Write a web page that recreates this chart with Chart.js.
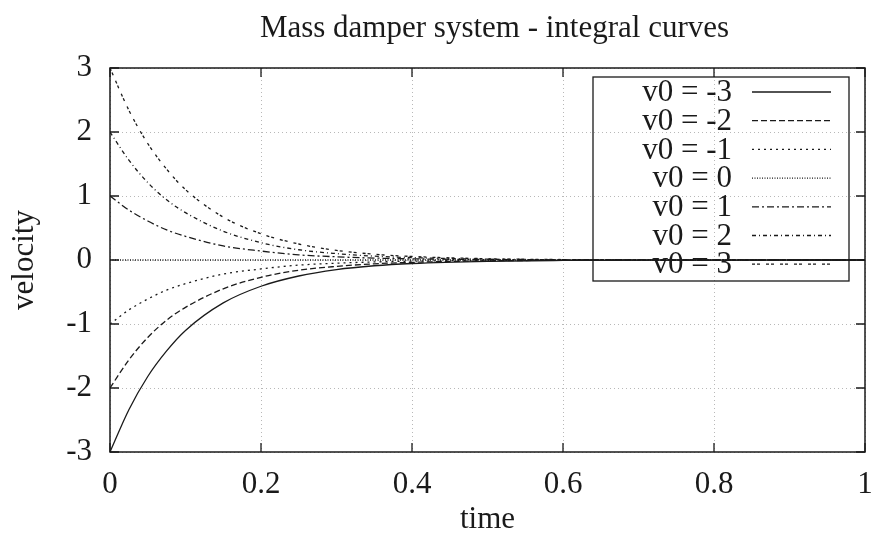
<!DOCTYPE html>
<html>
<head>
<meta charset="utf-8">
<script src="https://cdn.jsdelivr.net/npm/chart.js@4"></script>
<style>
  html, body { margin: 0; padding: 0; background: #fff; }
  #wrap { width: 872px; height: 534px; }
</style>
</head>
<body>
<div id="wrap"><canvas id="damper_chart" width="872" height="534"></canvas></div>
<script>
var times = [0, 0.025, 0.05, 0.075, 0.1, 0.15, 0.2, 0.25, 0.3, 0.35, 0.4, 0.5, 0.6, 0.7, 0.8, 0.9, 1.0];

var v_m3 = [-3, -2.34, -1.82, -1.42, -1.10, -0.67, -0.41, -0.25, -0.15, -0.09, -0.055, -0.02, -0.007, -0.003, -0.001, 0, 0];
var v_m2 = [-2, -1.56, -1.21, -0.94, -0.74, -0.45, -0.27, -0.16, -0.10, -0.06, -0.037, -0.013, -0.005, -0.002, -0.001, 0, 0];
var v_m1 = [-1, -0.78, -0.61, -0.47, -0.37, -0.22, -0.14, -0.08, -0.05, -0.03, -0.018, -0.007, -0.002, -0.001, 0, 0, 0];
var v_0  = [0, 0, 0, 0, 0, 0, 0, 0, 0, 0, 0, 0, 0, 0, 0, 0, 0];
var v_p1 = [1, 0.78, 0.61, 0.47, 0.37, 0.22, 0.14, 0.08, 0.05, 0.03, 0.018, 0.007, 0.002, 0.001, 0, 0, 0];
var v_p2 = [2, 1.56, 1.21, 0.94, 0.74, 0.45, 0.27, 0.16, 0.10, 0.06, 0.037, 0.013, 0.005, 0.002, 0.001, 0, 0];
var v_p3 = [3, 2.34, 1.82, 1.42, 1.10, 0.67, 0.41, 0.25, 0.15, 0.09, 0.055, 0.02, 0.007, 0.003, 0.001, 0, 0];

var series_labels = ['v0 = -3', 'v0 = -2', 'v0 = -1', 'v0 = 0', 'v0 = 1', 'v0 = 2', 'v0 = 3'];
var series_values = [v_m3, v_m2, v_m1, v_0, v_p1, v_p2, v_p3];
var series_dashes = [[], [6, 3], [2, 4], [1, 1.5], [7, 3, 2, 3], [4, 3, 1, 3], [3, 2, 3, 6]];

var x_ticks = [0, 0.2, 0.4, 0.6, 0.8, 1];
var y_ticks = [-3, -2, -1, 0, 1, 2, 3];

var chart_title = 'Mass damper system - integral curves';
var serif = "'Liberation Serif', 'DejaVu Serif', serif";
var ink = '#1a1a1a';

var datasets = [];
for (let i = 0; i < series_values.length; i++) {
  datasets.push({
    label: series_labels[i],
    data: times.map(function (t, j) { return { x: t, y: series_values[i][j] }; }),
    borderColor: ink,
    borderWidth: 1.3,
    borderDash: series_dashes[i],
    pointRadius: 0,
    fill: false,
    cubicInterpolationMode: 'monotone'
  });
}

// frame + inward ticks like gnuplot, title centred over the plot box
const framePlugin = {
  id: 'frame',
  afterDatasetsDraw(chart) {
    const ctx = chart.ctx, a = chart.chartArea;
    const xs = chart.scales.x, ys = chart.scales.y;
    ctx.save();
    ctx.strokeStyle = ink;
    ctx.lineWidth = 1.3;
    ctx.beginPath();
    x_ticks.forEach(function (v) {
      let px = xs.getPixelForValue(v);
      ctx.moveTo(px, a.bottom); ctx.lineTo(px, a.bottom - 9);
      ctx.moveTo(px, a.top); ctx.lineTo(px, a.top + 9);
    });
    y_ticks.forEach(function (v) {
      let py = ys.getPixelForValue(v);
      ctx.moveTo(a.left, py); ctx.lineTo(a.left + 9, py);
      ctx.moveTo(a.right, py); ctx.lineTo(a.right - 9, py);
    });
    ctx.stroke();
    ctx.lineWidth = 1.5;
    ctx.strokeRect(a.left, a.top, a.right - a.left, a.bottom - a.top);

    ctx.font = '31px ' + serif;
    ctx.fillStyle = ink;
    ctx.textAlign = 'center';
    ctx.textBaseline = 'middle';
    ctx.fillText(chart_title, (a.left + a.right) / 2 + 7, 29);
    ctx.restore();
  }
};

// key box drawn inside the plot, text right aligned and sample on the right
const keyPlugin = {
  id: 'keybox',
  afterDraw(chart) {
    const ctx = chart.ctx, a = chart.chartArea;
    const boxRight = a.right - 16, boxTop = a.top + 9;
    const boxLeft = boxRight - 256, rowH = 28.7;
    const boxBottom = boxTop + 204;
    ctx.save();
    ctx.strokeStyle = ink;
    ctx.lineWidth = 1.3;
    ctx.strokeRect(boxLeft, boxTop, boxRight - boxLeft, boxBottom - boxTop);
    ctx.font = '31px ' + serif;
    ctx.fillStyle = ink;
    ctx.textAlign = 'right';
    ctx.textBaseline = 'middle';
    chart.data.datasets.forEach(function (ds, i) {
      let y = boxTop + 15 + i * rowH;
      ctx.fillText(ds.label, boxLeft + 139, y + 1);
      ctx.setLineDash(ds.borderDash);
      ctx.lineWidth = 1.3;
      ctx.beginPath();
      ctx.moveTo(boxLeft + 159, y);
      ctx.lineTo(boxLeft + 238, y);
      ctx.stroke();
    });
    ctx.restore();
  }
};

const config = {
  type: 'line',
  data: { datasets: datasets },
  options: {
    responsive: false,
    animation: false,
    layout: { padding: { left: 0, right: 7, top: 68, bottom: 0 } },
    scales: {
      x: {
        type: 'linear',
        min: 0,
        max: 1,
        afterBuildTicks: function (axis) { axis.ticks = x_ticks.map(function (v) { return { value: v }; }); },
        afterFit: function (axis) {
          axis.height = 82;
          axis.paddingLeft = 0;
          axis.paddingRight = 0;
        },
        grid: { color: '#b8b8b8', lineWidth: 1, drawTicks: false },
        border: { display: false, dash: [1, 3] },
        ticks: {
          padding: 14,
          color: ink,
          font: { family: serif, size: 31 },
          maxRotation: 0,
          callback: function (v) { return String(Math.round(v * 10) / 10); }
        },
        title: {
          display: true,
          text: 'time',
          color: ink,
          font: { family: serif, size: 31 },
          padding: { top: 0, bottom: -4 }
        }
      },
      y: {
        type: 'linear',
        min: -3,
        max: 3,
        afterBuildTicks: function (axis) { axis.ticks = y_ticks.map(function (v) { return { value: v }; }); },
        afterFit: function (axis) {
          axis.width = 110;
          axis.paddingTop = 0;
          axis.paddingBottom = 0;
        },
        grid: { color: '#b8b8b8', lineWidth: 1, drawTicks: false },
        border: { display: false, dash: [1, 3] },
        ticks: {
          padding: 18,
          color: ink,
          font: { family: serif, size: 31 }
        },
        title: {
          display: true,
          text: 'velocity',
          color: ink,
          font: { family: serif, size: 31 },
          padding: { top: 6, bottom: 0 }
        }
      }
    },
    plugins: {
      legend: { display: false },
      tooltip: { enabled: false },
      title: { display: false }
    }
  },
  plugins: [framePlugin, keyPlugin]
};

const myChart = new Chart(document.getElementById('damper_chart'), config);
</script>
</body>
</html>
